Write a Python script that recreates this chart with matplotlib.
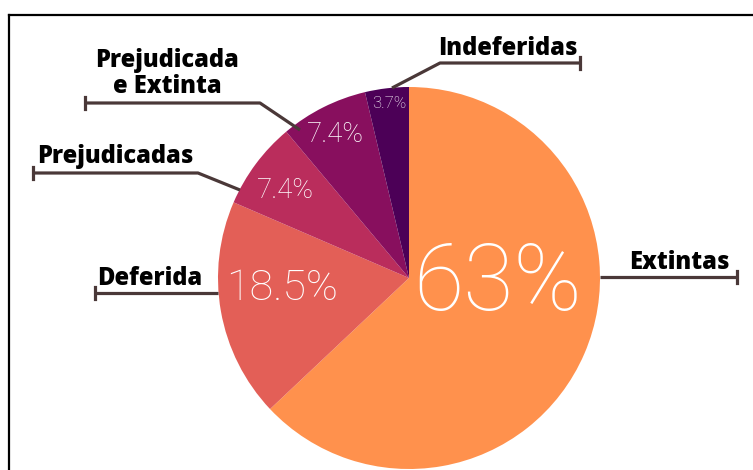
import matplotlib.pyplot as plt
from matplotlib.lines import Line2D

categories = ["Extintas", "Deferida", "Prejudicadas", "Prejudicada", "Indeferidas"]
sub_label = "e Extinta"
counts = [17, 5, 2, 2, 1]
pct_labels = ["63%", "18.5%", "7.4%", "7.4%", "3.7%"]
colors = ["#FF914D", "#E35F57", "#BA2D5C", "#880F5E", "#4C0057"]

W, H = 753, 470
fig = plt.figure(figsize=(W / 100, H / 100), dpi=100)
ax = fig.add_axes([0, 0, 1, 1])


def py(y):
    # image pixel row -> data y
    return H - y


cx, cy, r = 409, 278, 191
ax.pie(counts, colors=colors, startangle=90, counterclock=False,
       center=(cx, py(cy)), radius=r, frame=True,
       wedgeprops=dict(linewidth=0))
ax.set_xlim(0, W)
ax.set_ylim(0, H)
ax.set_aspect("equal")
ax.axis("off")

# percentage labels inside the wedges
pct_pos = [(498, 285), (282, 288), (285, 190), (335, 134), (389, 103)]
pct_size = [66, 31, 20, 20, 12]
for txt, (x, y), s in zip(pct_labels, pct_pos, pct_size):
    ax.text(x, py(y), txt, ha="center", va="center", color="white",
            fontsize=s, family="Roboto", fontweight="light")

# leader lines (image pixel coords)
line_color = "#4A3838"
leaders = [
    [(600, 277), (737, 277)],
    [(218, 293), (95, 293)],
    [(240, 190), (198, 173), (33, 173)],
    [(300, 130), (260, 103), (85, 103)],
    [(392, 88), (440, 63), (580, 63)],
]
for pts in leaders:
    xs = [p[0] for p in pts]
    ys = [py(p[1]) for p in pts]
    ax.add_line(Line2D(xs, ys, color=line_color, lw=2.3, solid_capstyle="butt"))
    ex, ey = pts[-1]
    ax.add_line(Line2D([ex, ex], [py(ey - 6), py(ey + 6)], color=line_color, lw=2.3))

# category labels, positioned by baseline
label_pos = [(679, 269), (150, 285), (115, 163), (167, 67), (508, 55)]
lab_font = dict(color="black", fontsize=17, family="Open Sans", fontweight=800)
for txt, (x, y) in zip(categories, label_pos):
    ax.text(x, py(y), txt, ha="center", va="baseline", **lab_font)
ax.text(167, py(93), sub_label, ha="center", va="baseline", **lab_font)

# partial frame (top and left edges)
ax.add_line(Line2D([9, 9], [0, py(15)], color="black", lw=1.6))
ax.add_line(Line2D([9, W], [py(15), py(15)], color="black", lw=1.6))

fig.savefig("out.png", dpi=100)
